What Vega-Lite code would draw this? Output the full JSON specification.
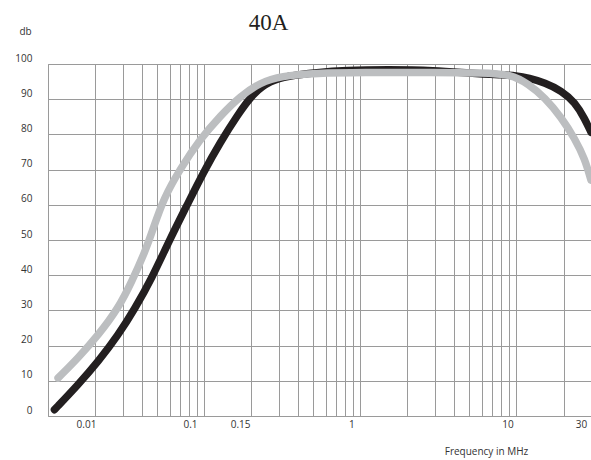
{
  "$schema": "https://vega.github.io/schema/vega-lite/v6.json",
  "width": 543,
  "height": 352,
  "autosize": {"type": "none"},
  "padding": {"left": 48, "top": 64, "right": 0, "bottom": 44},
  "background": "white",
  "config": {
    "view": {"stroke": "#9a9a9a", "strokeWidth": 1},
    "font": "Open Sans",
    "axisY": {"labelOverlap": false}
  },
  "title": {
    "text": "40A",
    "font": "Liberation Serif",
    "fontSize": 23,
    "fontWeight": "normal",
    "color": "#231f20",
    "frame": "group",
    "anchor": "middle",
    "dx": -51,
    "baseline": "alphabetic",
    "offset": 0,
    "dy": 27
  },
  "resolve": {"axis": {"x": "independent"}},
  "data": {
    "values": [
      {"series": "black", "freq": 0.011, "db": 1.8},
      {"series": "black", "freq": 0.0156, "db": 8.9},
      {"series": "black", "freq": 0.021, "db": 15.5},
      {"series": "black", "freq": 0.0282, "db": 23},
      {"series": "black", "freq": 0.0361, "db": 30.6},
      {"series": "black", "freq": 0.0462, "db": 39.1},
      {"series": "black", "freq": 0.06, "db": 50},
      {"series": "black", "freq": 0.0775, "db": 59.8},
      {"series": "black", "freq": 0.099, "db": 69.3},
      {"series": "black", "freq": 0.127, "db": 77.8},
      {"series": "black", "freq": 0.1625, "db": 85.3},
      {"series": "black", "freq": 0.2077, "db": 91.9},
      {"series": "black", "freq": 0.266, "db": 95.2},
      {"series": "black", "freq": 0.34, "db": 96.6},
      {"series": "black", "freq": 0.53, "db": 97.6},
      {"series": "black", "freq": 0.8, "db": 98.2},
      {"series": "black", "freq": 1.5, "db": 98.4},
      {"series": "black", "freq": 3, "db": 98.2},
      {"series": "black", "freq": 5, "db": 97.4},
      {"series": "black", "freq": 8, "db": 96.9},
      {"series": "black", "freq": 10, "db": 96.7},
      {"series": "black", "freq": 12, "db": 96.0},
      {"series": "black", "freq": 15.2, "db": 94.7},
      {"series": "black", "freq": 19.4, "db": 92.4},
      {"series": "black", "freq": 23.7, "db": 89.1},
      {"series": "black", "freq": 27.4, "db": 84.4},
      {"series": "black", "freq": 30, "db": 80.6},
      {"series": "gray", "freq": 0.0116, "db": 10.8},
      {"series": "gray", "freq": 0.0156, "db": 16.5},
      {"series": "gray", "freq": 0.021, "db": 23},
      {"series": "gray", "freq": 0.0282, "db": 30.6},
      {"series": "gray", "freq": 0.0344, "db": 38.2},
      {"series": "gray", "freq": 0.0418, "db": 46.6},
      {"series": "gray", "freq": 0.047, "db": 53},
      {"series": "gray", "freq": 0.0548, "db": 61.7},
      {"series": "gray", "freq": 0.0702, "db": 70.2},
      {"series": "gray", "freq": 0.0944, "db": 78.7},
      {"series": "gray", "freq": 0.127, "db": 85.3},
      {"series": "gray", "freq": 0.1706, "db": 90.9},
      {"series": "gray", "freq": 0.229, "db": 94.7},
      {"series": "gray", "freq": 0.308, "db": 96.6},
      {"series": "gray", "freq": 0.53, "db": 97.4},
      {"series": "gray", "freq": 1, "db": 97.6},
      {"series": "gray", "freq": 3, "db": 97.6},
      {"series": "gray", "freq": 6, "db": 97.5},
      {"series": "gray", "freq": 9.27, "db": 97.1},
      {"series": "gray", "freq": 11.9, "db": 94.3},
      {"series": "gray", "freq": 15.2, "db": 90.5},
      {"series": "gray", "freq": 19.4, "db": 84.8},
      {"series": "gray", "freq": 23.7, "db": 78.7},
      {"series": "gray", "freq": 27.4, "db": 73},
      {"series": "gray", "freq": 30, "db": 67}
    ]
  },
  "layer": [
    {
      "transform": [{"filter": "datum.series === 'black'"}],
      "mark": {"type": "line", "interpolate": "basis", "strokeWidth": 7.5, "strokeCap": "round", "strokeJoin": "round", "color": "#231f20", "clip": true},
      "encoding": {
        "x": {
          "field": "freq", "type": "quantitative",
          "scale": {"type": "log", "domain": [0.01, 30], "nice": false},
          "axis": {
            "orient": "bottom",
            "values": [0.01, 0.02, 0.03, 0.04, 0.05, 0.06, 0.07, 0.08, 0.09, 0.1, 0.2, 0.3, 0.4, 0.5, 0.6, 0.7, 0.8, 0.9, 1, 2, 3, 4, 5, 6, 7, 8, 9, 10, 20, 30],
            "grid": true, "gridColor": "#9a9a9a", "gridOpacity": 1, "gridWidth": 1,
            "labels": false, "ticks": false, "domain": false, "title": null
          }
        },
        "y": {
          "field": "db", "type": "quantitative",
          "scale": {"domain": [0, 100], "nice": false},
          "axis": {
            "values": [0, 10, 20, 30, 40, 50, 60, 70, 80, 90, 100],
            "grid": true, "gridColor": "#9a9a9a", "gridOpacity": 1, "gridWidth": 1,
            "domain": false, "ticks": false, "labelOverlap": false, "labelBound": false,
            "labelFontSize": 10, "labelColor": "#333333", "labelPadding": 16, "labelAlign": "right", "labelOffset": -6,
            "title": "db", "titleAngle": 0, "titleX": -23, "titleY": -33, "titleAlign": "center", "titleBaseline": "middle",
            "titleFontSize": 10, "titleFontWeight": "normal", "titleColor": "#333333"
          }
        }
      }
    },
    {
      "transform": [{"filter": "datum.series === 'gray'"}],
      "mark": {"type": "line", "interpolate": "basis", "strokeWidth": 7.5, "strokeCap": "round", "strokeJoin": "round", "color": "#bcbec0", "clip": true},
      "encoding": {
        "x": {
          "field": "freq", "type": "quantitative",
          "scale": {"type": "log", "domain": [0.01, 30], "nice": false},
          "axis": {
            "orient": "bottom",
            "values": [0.0175, 0.0811, 0.17, 0.877, 8.77, 25.9],
            "labelExpr": "datum.value < 0.03 ? '0.01' : datum.value < 0.12 ? '0.1' : datum.value < 0.5 ? '0.15' : datum.value < 5 ? '1' : datum.value < 20 ? '10' : '30'",
            "grid": false, "ticks": false, "domain": false,
            "labelFontSize": 10, "labelColor": "#333333", "labelPadding": 3, "labelFlush": false, "labelOverlap": false,
            "title": "Frequency in MHz", "titleX": 438, "titleY": 35, "titleAlign": "center", "titleBaseline": "middle",
            "titleFontSize": 10, "titleFontWeight": "normal", "titleColor": "#333333"
          }
        },
        "y": {
          "field": "db", "type": "quantitative",
          "axis": {
            "values": [0, 10, 20, 30, 40, 50, 60, 70, 80, 90, 100],
            "grid": true, "gridColor": "#9a9a9a", "gridOpacity": 1, "gridWidth": 1,
            "domain": false, "ticks": false, "labelOverlap": false, "labelBound": false,
            "labelFontSize": 10, "labelColor": "#333333", "labelPadding": 16, "labelAlign": "right", "labelOffset": -6,
            "title": "db", "titleAngle": 0, "titleX": -23, "titleY": -33, "titleAlign": "center", "titleBaseline": "middle",
            "titleFontSize": 10, "titleFontWeight": "normal", "titleColor": "#333333"
          }
        }
      }
    }
  ]
}
